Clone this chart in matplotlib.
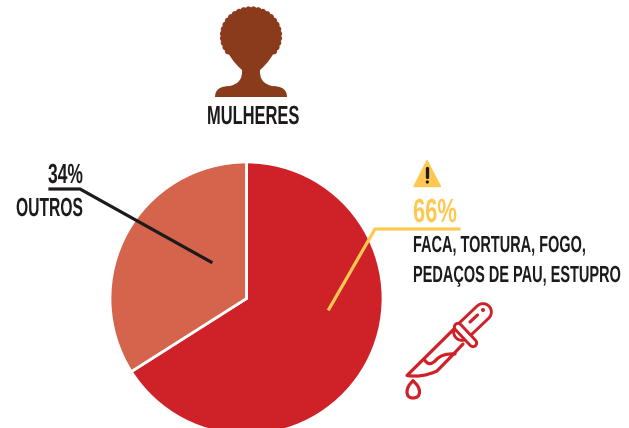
import numpy as np
import matplotlib
matplotlib.use('Agg')
import matplotlib.pyplot as plt
import matplotlib.patheffects as pe
from matplotlib.font_manager import FontProperties
from matplotlib.patches import Circle, Ellipse, PathPatch, Polygon
from matplotlib.path import Path
from matplotlib.textpath import TextPath
from matplotlib.transforms import Affine2D

W, H = 629, 428

# Data
categories = ['Faca, tortura, fogo, pedaços de pau, estupro', 'Outros']
values = [66, 34]
colors = ['#CF2128', '#D4644B']

RED = '#CF2128'
BROWN = '#8A3B1C'
YELLOW = '#FFC850'
DARK = '#1E1A1B'
FAMILY = 'Liberation Sans'

plt.rcParams['font.family'] = [FAMILY, 'DejaVu Sans']

fig = plt.figure(figsize=(W / 100, H / 100), dpi=100)
ax = fig.add_axes([0, 0, 1, 1])


def py(y):
    # picture pixels go downward, axes go upward
    return H - y


# Pie
ax.pie(values, colors=colors, startangle=90, counterclock=False,
       center=(246.5, py(298.5)), radius=136.5, frame=False,
       wedgeprops={'edgecolor': 'white', 'linewidth': 2})
ax.set_xlim(0, W)
ax.set_ylim(0, H)
ax.set_aspect('auto')
ax.axis('off')

# Leader lines
ax.plot([329, 375, 459], [py(309), py(229), py(229)], color=YELLOW, lw=2.3,
        solid_joinstyle='miter', zorder=5)
ax.plot([50, 80, 211], [py(189), py(189), py(262)], color=DARK, lw=2.3,
        solid_joinstyle='miter', zorder=5)


class Tall(pe.AbstractPathEffect):
    # stretch the glyphs upward from the baseline, the original font is condensed
    def __init__(self, sy, y0):
        super().__init__()
        self.sy = sy
        self.y0 = y0

    def draw_path(self, renderer, gc, tpath, affine, rgbFace=None):
        stretch = Affine2D().translate(0, -self.y0).scale(1, self.sy).translate(0, self.y0)
        renderer.draw_path(gc, tpath, affine + stretch, rgbFace)


def fit_text(s, x0, x1, top, base, color, weight='bold'):
    # font size from the width, height from the stretch
    t = ax.text(x0, py(base), s, fontsize=10, fontweight=weight, color=color,
                ha='left', va='baseline', zorder=7)
    width = t.get_window_extent(fig.canvas.get_renderer()).width
    size = 10 * (x1 - x0) / width
    t.set_fontsize(size)
    prop = FontProperties(family=FAMILY, weight=weight)
    cap = TextPath((0, 0), 'H', size=size, prop=prop).get_extents().height * fig.dpi / 72
    t.set_path_effects([Tall((base - top) / cap, py(base))])
    return t


fit_text('MULHERES', 207, 299, 106, 124, DARK)
fit_text('34%', 48, 83, 164, 183, DARK)
fit_text('OUTROS', 16, 83, 198, 216, DARK)
fit_text('66%', 413, 457, 199, 222, YELLOW)
fit_text('FACA, TORTURA, FOGO,', 413, 586, 236, 252, DARK)
fit_text('PEDAÇOS DE PAU, ESTUPRO', 413, 621, 266, 282, DARK)

# Woman icon
ax.add_patch(Ellipse((251, py(36)), 57, 55, color=BROWN, lw=0))
for a in np.radians(np.arange(-35, 216, 10)):
    ax.add_patch(Circle((251 + 28 * np.cos(a), py(36) + 26.5 * np.sin(a)), 3.2, color=BROWN, lw=0))
M, L, C = Path.MOVETO, Path.LINETO, Path.CURVE3
body = [(M, (226, 50)), (L, (232, 59)), (C, (236, 65)), (C, (242, 70)),
        (C, (243, 83)), (C, (230, 86)), (C, (215, 86)), (C, (215, 97)),
        (L, (287, 97)), (C, (287, 86)), (C, (272, 86)), (C, (259, 83)),
        (C, (260, 70)), (C, (266, 65)), (C, (270, 59)), (L, (276, 50)),
        (Path.CLOSEPOLY, (226, 50))]
ax.add_patch(PathPatch(Path([(x, py(y)) for _, (x, y) in body], [c for c, _ in body]),
                       facecolor=BROWN, edgecolor='none'))

# Warning icon
ax.add_patch(Polygon([(427, py(160.5)), (414, py(186.5)), (440.5, py(186.5))], closed=True,
                     facecolor=YELLOW, edgecolor=YELLOW, lw=1, joinstyle='round'))
ax.plot([427.3, 427.3], [py(167.5), py(177)], color=DARK, lw=2.4, solid_capstyle='round')
ax.add_patch(Circle((427.3, py(182)), 1.6, color=DARK, lw=0))


def outline(points, codes, lw=2.3):
    verts = [(x, py(y)) for x, y in points]
    ax.add_patch(PathPatch(Path(verts, codes), facecolor='none', edgecolor=RED, lw=lw,
                           capstyle='round', joinstyle='round', zorder=6))


def capsule(p0, p1, outer, inner):
    xs, ys = [p0[0], p1[0]], [py(p0[1]), py(p1[1])]
    ax.plot(xs, ys, color=RED, lw=outer, solid_capstyle='round', zorder=6)
    ax.plot(xs, ys, color='white', lw=inner, solid_capstyle='round', zorder=6)


# Knife icon
outline([(456, 327), (407, 375.5), (422, 378), (437, 371), (449, 359), (463, 344)], [M, L, C, C, C, L])
outline([(424, 359), (429, 368), (436, 360), (442, 353), (455, 354)], [M, C, C, C, C])
capsule((462, 332), (483, 312), 14.2, 10)
capsule((458, 327), (473, 343), 7.4, 3.2)
ax.plot([470, 477.5], [py(322), py(315)], color=RED, lw=2.3, solid_capstyle='round', zorder=6)
ax.add_patch(Circle((483, py(310)), 2, color=RED, lw=0, zorder=6))
outline([(413, 381), (407, 386), (407, 392), (407, 398), (413, 398), (419.5, 398),
         (419.5, 392), (419.5, 386), (413, 381)], [M, C, C, C, C, C, C, C, C], lw=2.3)

fig.savefig('out.png', dpi=100)
